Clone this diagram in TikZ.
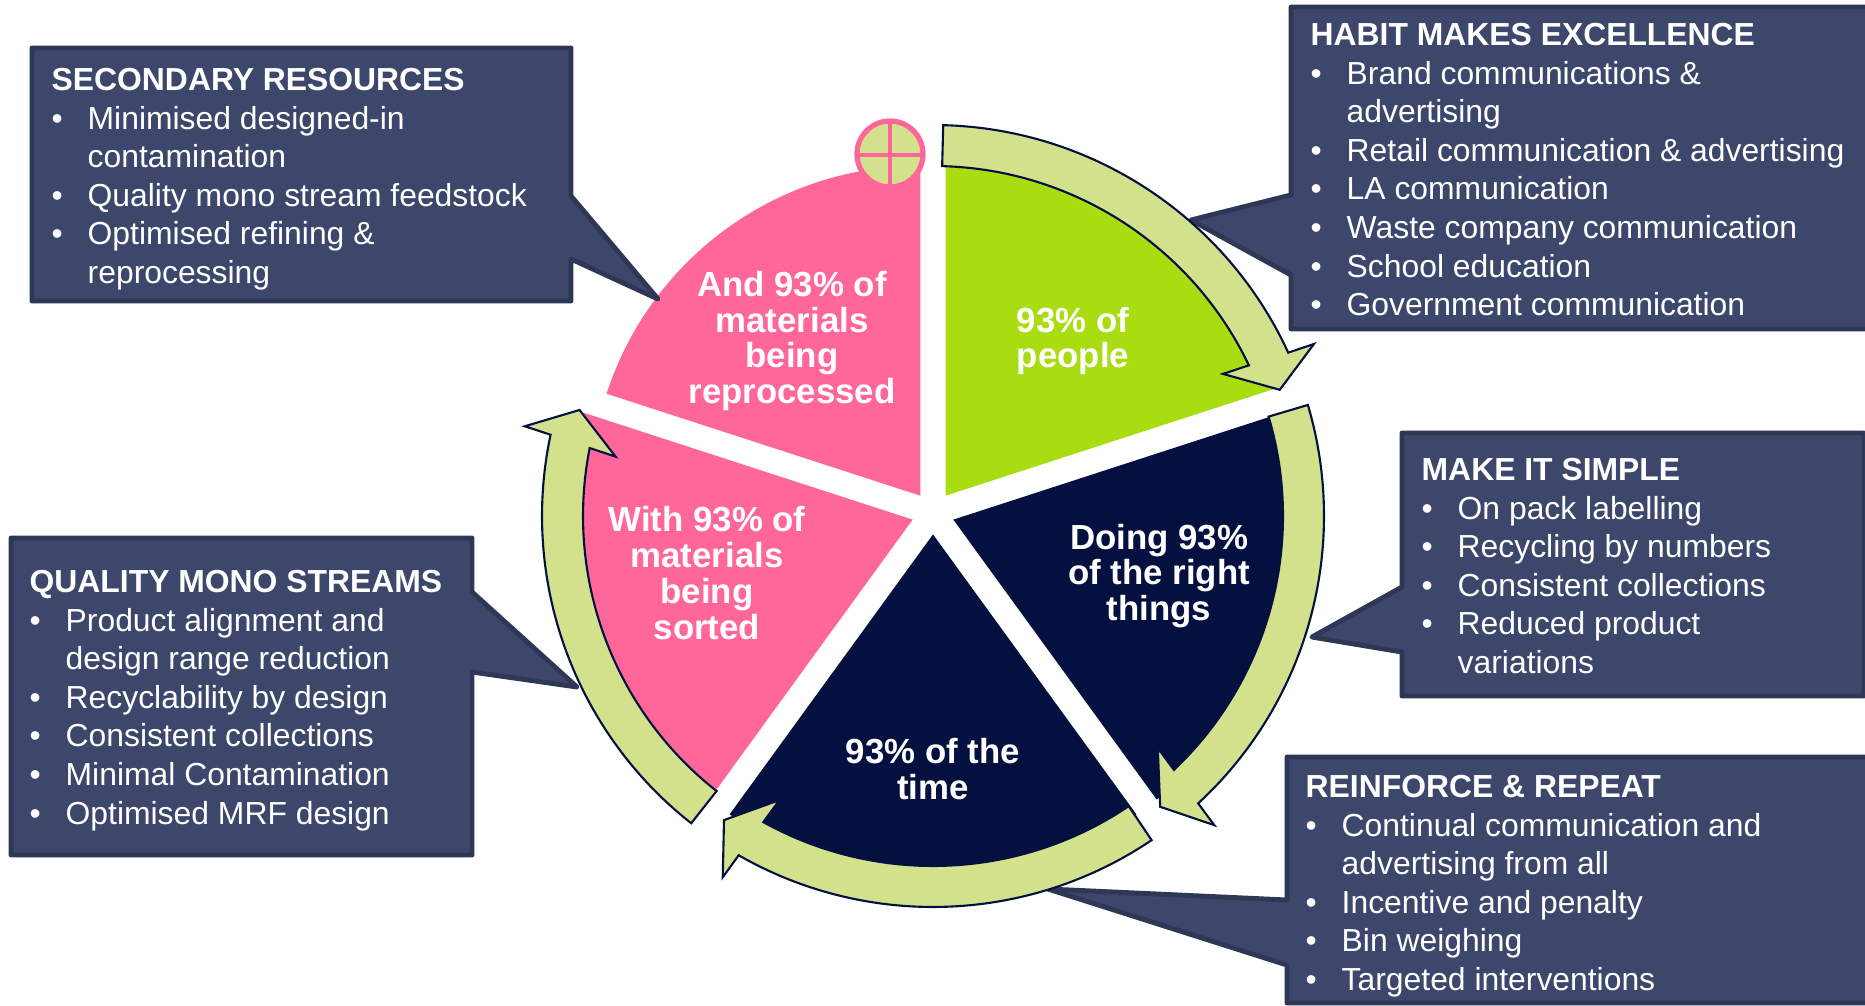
\documentclass[tikz,border=0pt]{standalone}
\usepackage{fontspec}
\setmainfont{Liberation Sans}
\definecolor{pinkseg}{HTML}{FF6699}
\definecolor{limeseg}{HTML}{A9DD12}
\definecolor{navyseg}{HTML}{041040}
\definecolor{arrowfill}{HTML}{D3E18D}
\definecolor{boxfill}{HTML}{3D476B}
\definecolor{boxline}{HTML}{2E3756}
\tikzset{
  callbox/.style={draw=boxline, fill=boxfill, line width=1.4pt, line join=round},
  cycarrow/.style={draw=navyseg, fill=arrowfill, line width=0.6pt, line join=miter},
  calltext/.style={anchor=north west, inner sep=0pt, text=white, align=left,
    font=\fontsize{9.06}{10.95}\selectfont},
  segtext/.style={inner sep=0pt, text=white, align=center,
    font=\bfseries\fontsize{9.9}{10.2}\selectfont},
}
\newcommand{\bul}[1]{\makebox[0.36cm][l]{\textbullet}#1}
\newcommand{\cont}[1]{\makebox[0.36cm][l]{}#1}
\begin{document}
\begin{tikzpicture}[x=0.01cm,y=0.01cm]
\useasboundingbox (0,0) rectangle (1865,-1005);

% pie segments
\foreach \b/\r/\c in {54/346/limeseg, -18/346/navyseg, -90/346/navyseg, 198/346/pinkseg, 126/330/pinkseg} {
  \begin{scope}[shift={(933,-513)}, shift={(\b:21.4)}]
    \fill[\c] (0,0) -- (\b+36:\r) arc (\b+36:\b-36:\r) -- cycle;
  \end{scope}
}

% call-outs
\draw[callbox] (32,-48) -- (571,-48) -- (571,-196) -- (658,-299) -- (571,-259) -- (571,-301) -- (32,-301) -- cycle;
\draw[callbox] (1291,-7) -- (1875,-7) -- (1875,-329) -- (1291,-329) -- (1291,-275) -- (1191,-220) -- (1291,-195) -- cycle;
\draw[callbox] (1402,-433) -- (1864,-433) -- (1864,-696) -- (1402,-696) -- (1402,-652) -- (1312,-637) -- (1402,-587) -- cycle;
\draw[callbox] (1287,-757) -- (1875,-757) -- (1875,-1003) -- (1287,-1003) -- (1287,-965) -- (1048,-889) -- (1287,-900) -- cycle;
\draw[callbox] (11,-538) -- (472,-538) -- (472,-592) -- (577,-687) -- (472,-672) -- (472,-855) -- (11,-855) -- cycle;

% arrows round the pie
\foreach \t in {0,-72,-144.5,-216.7} {
  \begin{scope}[shift={(933,-516)}, rotate=\t]
    \draw[cycarrow] (88.5:391) arc (88.5:24.7:391) -- (24.3:418) -- (20:369)
      -- (26.1:323) -- (25.5:350) arc (25.5:88.5:350) -- cycle;
  \end{scope}
}

% or-junction on top of the pink segment
\draw[draw=pinkseg, fill=arrowfill, line width=1.5pt] (890,-154) circle (33);
\draw[pinkseg, line width=1.4pt] (890,-121) -- (890,-187) (857,-155) -- (923,-155);

\node[segtext] (people) at (1073,-341) {93\% of\\people};
\node[segtext] (things) at (1159,-576) {Doing 93\%\\of the right\\things};
\node[segtext] (time) at (933,-769) {93\% of the\\time};
\node[segtext] (sorted) at (707,-573) {With 93\% of\\materials\\being\\sorted};
\node[segtext] (reproc) at (792,-341) {And 93\% of\\materials\\being\\reprocessed};

\node[calltext] (secondary) at (51,-68) {\textbf{SECONDARY RESOURCES}\\
  \bul{Minimised designed-in}\\ \cont{contamination}\\ \bul{Quality mono stream feedstock}\\
  \bul{Optimised refining \&}\\ \cont{reprocessing}};
\node[calltext] (habit) at (1310,-23) {\textbf{HABIT MAKES EXCELLENCE}\\
  \bul{Brand communications \&}\\ \cont{advertising}\\ \bul{Retail communication \& advertising}\\
  \bul{LA communication}\\ \bul{Waste company communication}\\ \bul{School education}\\
  \bul{Government communication}};
\node[calltext] (simple) at (1421,-458) {\textbf{MAKE IT SIMPLE}\\
  \bul{On pack labelling}\\ \bul{Recycling by numbers}\\ \bul{Consistent collections}\\
  \bul{Reduced product}\\ \cont{variations}};
\node[calltext] (repeat) at (1305,-775) {\textbf{REINFORCE \& REPEAT}\\
  \bul{Continual communication and}\\ \cont{advertising from all}\\ \bul{Incentive and penalty}\\
  \bul{Bin weighing}\\ \bul{Targeted interventions}};
\node[calltext] (mono) at (29,-570) {\textbf{QUALITY MONO STREAMS}\\
  \bul{Product alignment and}\\ \cont{design range reduction}\\ \bul{Recyclability by design}\\
  \bul{Consistent collections}\\ \bul{Minimal Contamination}\\ \bul{Optimised MRF design}};

\end{tikzpicture}
\end{document}
